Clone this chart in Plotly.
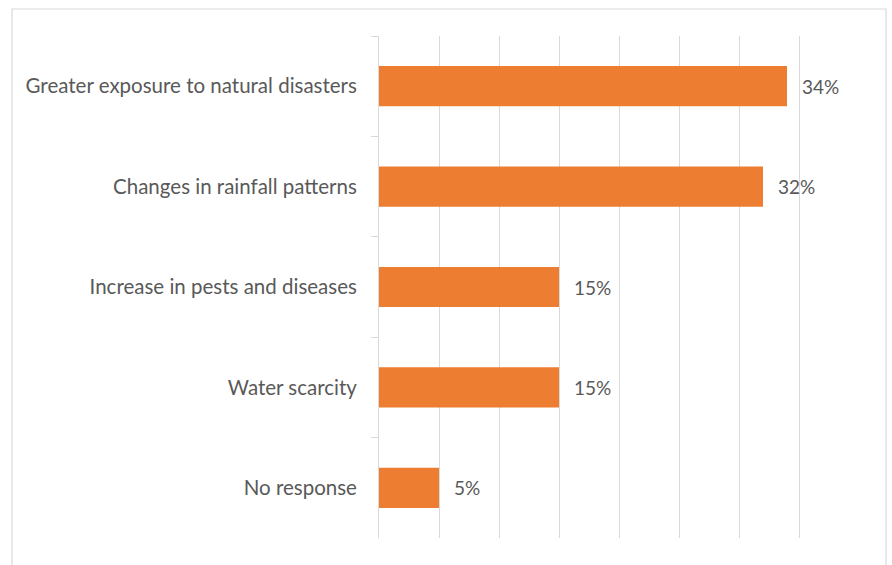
import plotly.graph_objects as go

# Share of responses by perceived climate-change impact
categories = [
    "Greater exposure to natural disasters",
    "Changes in rainfall patterns",
    "Increase in pests and diseases",
    "Water scarcity",
    "No response",
]
values = [34, 32, 15, 15, 5]

BAR_COLOR = "#ED7D31"
TEXT_COLOR = "#595959"
LINE_COLOR = "#D9D9D9"
FONT = "Lato, 'Open Sans', sans-serif"

fig = go.Figure(
    go.Bar(
        x=values,
        y=categories,
        orientation="h",
        marker=dict(color=BAR_COLOR, line=dict(width=0)),
        hoverinfo="skip",
    )
)

# Percentage labels to the right of each bar
for cat, val in zip(categories, values):
    fig.add_annotation(
        x=val, y=cat, xref="x", yref="y",
        text=f"{val}%", showarrow=False,
        xanchor="left", yanchor="middle", xshift=13,
        font=dict(family=FONT, size=19, color=TEXT_COLOR),
    )

# Light frame around the whole chart area
fig.add_shape(
    type="rect", xref="paper", yref="paper",
    x0=-0.7646, x1=1.0563, y0=-0.08, y1=1.0538,
    line=dict(color=LINE_COLOR, width=1.2), fillcolor="rgba(0,0,0,0)",
    layer="below",
)

fig.update_layout(
    width=892, height=565,
    margin=dict(l=379, r=33, t=36, b=27),
    paper_bgcolor="white", plot_bgcolor="white",
    bargap=0.6,
    showlegend=False,
    font=dict(family=FONT, size=20.5, color=TEXT_COLOR),
    xaxis=dict(
        range=[0, 40], dtick=5, showticklabels=False,
        showgrid=True, gridcolor=LINE_COLOR, gridwidth=1,
        zeroline=False, showline=False, fixedrange=True,
    ),
    yaxis=dict(
        autorange="reversed", type="category",
        showline=True, linecolor=LINE_COLOR, linewidth=1,
        ticks="outside", tickson="boundaries", ticklen=7, tickcolor=LINE_COLOR,
        showgrid=False, zeroline=False,
        ticklabelstandoff=17,
        tickfont=dict(family=FONT, size=20.5, color=TEXT_COLOR),
    ),
)

fig.write_html("out.html")
